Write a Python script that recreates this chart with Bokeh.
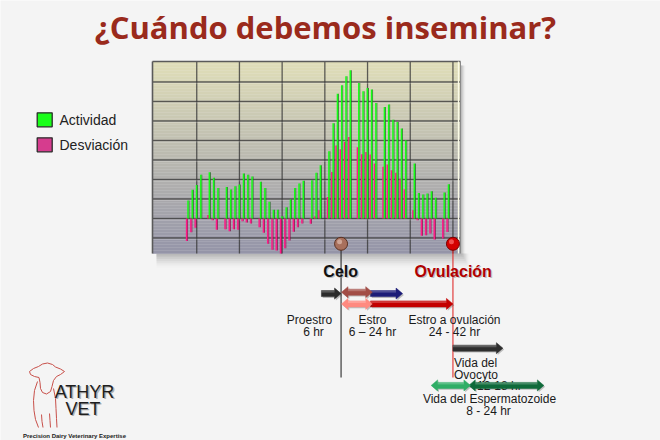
import math
from bokeh.plotting import figure
from bokeh.models import Range1d
from bokeh.core.properties import value
from bokeh.embed import file_html
from bokeh.resources import INLINE

W, H = 660, 440

# ---------------- data ----------------
titulo = "¿Cuándo debemos inseminar?"
serie_nombres = ["Actividad", "Desviación"]
slots = [0, 1, 2, 3, 5, 6, 7, 9, 10, 11, 12, 13, 14, 15, 17, 18, 19, 20, 21, 22, 23,
         24, 25, 26, 27, 29, 30, 31, 33, 34, 35, 36, 37, 38, 40, 41, 42, 43, 44, 46,
         47, 48, 49, 50, 51, 53, 54, 55, 56, 57, 58, 60, 61]
actividad = [0.92, 1.47, 1.72, 2.24, 2.37, 2.09, 1.57, 1.62, 1.49, 1.65, 1.74, 2.31,
             2.24, 2.15, 1.88, 1.57, 0.86, 0.45, 0.45, 0.12, 0.58, 0.97, 1.57, 1.79,
             1.93, 1.96, 2.35, 2.73, 3.45, 4.89, 6.40, 6.83, 7.29, 7.60, 6.95, 6.52,
             6.69, 6.61, 5.92, 5.72, 5.84, 5.07, 4.95, 4.61, 4.01, 2.82, 1.31, 1.23,
             1.28, 1.40, 1.06, 1.33, 1.76]
desviacion = [-1.16, -0.70, -0.48, float("nan"), 0.18, -0.09, -0.58, -0.55, -0.65,
              -0.55, -0.58, -0.14, -0.21, -0.25, -0.45, -0.73, -1.30, -1.60, -1.64,
              -1.80, -1.52, -1.13, -0.68, -0.45, -0.26, -0.27, 0.10, 0.42, 1.10, 2.39,
              3.75, 3.55, 3.93, 4.18, 3.65, 3.29, 3.41, 3.28, 2.82, 2.65, 2.77, 2.48,
              2.35, 2.04, 1.50, 0.42, -0.09, -0.89, -0.86, -0.77, -1.08, -1.03, -0.69]
grid_x = [2, 12, 22, 32, 42, 52, 62]
grid_y = [-1, 0, 1, 2, 3, 4, 5, 6, 7]
eventos = ["Celo", "Ovulación"]
eventos_x = [35.8, 62.0]
eventos_color = ["#111111", "#b00000"]
# phase arrows (start, end in chart slot units, row level)
fase_ini = [31.2, 42.7, 35.9, 42.7, 35.9, 62.0, 65.7, 56.9]
fase_fin = [35.8, 50.2, 43.1, 62.0, 43.1, 73.7, 83.3, 66.1]
fase_fila = [-3.85, -3.85, -3.78, -4.38, -4.38, -6.65, -8.56, -8.56]
fase_doble = [False, False, True, False, True, False, True, True]
fase_color = ["#2b2b2b", "#1c1c78", "#a24d46", "#c40000", "#ff8a80", "#2e2e2e",
              "#0f6a3a", "#2fae66"]

# ---------------- scale helpers ----------------
X0, SX, Y0, SY = 187.7, 4.27, 218.0, 19.5


def X(px):
    return (px - X0) / SX


def Y(py):
    return (Y0 - py) / SY


def PX(x):
    return X0 + x * SX


def PY(y):
    return Y0 - y * SY


FONT = value("Liberation Sans")

p = figure(width=W, height=H, x_range=Range1d(X(0), X(W)), y_range=Range1d(Y(H), Y(0)),
           output_backend="svg", toolbar_location=None, min_border=0,
           x_axis_location=None, y_axis_location=None,
           background_fill_color="#f4f4f4", border_fill_color="#f4f4f4")
p.outline_line_color = None
p.grid.visible = False

# ---------------- chart frame ----------------
L, R, T, B = 152, 460, 61, 253
# drop shadows
for i in range(8):
    a = 0.10 * (1 - i / 8)
    p.quad(left=X(L + 4), right=X(R + 2 + i), top=Y(B), bottom=Y(B + 2 + i * 1.8),
           fill_color="#606060", fill_alpha=a, line_color=None)
    p.quad(left=X(R), right=X(R + 1 + i * 0.6), top=Y(T + 4), bottom=Y(B),
           fill_color="#606060", fill_alpha=a, line_color=None)
# gradient background
n = 64
top_c = (224, 222, 184)
bot_c = (148, 148, 168)
for i in range(n):
    t = (i + 0.5) / n
    c = tuple(int(round(top_c[k] + (bot_c[k] - top_c[k]) * t)) for k in range(3))
    y1 = T + (B - T) * i / n
    y2 = T + (B - T) * (i + 1) / n
    p.quad(left=X(L), right=X(R), top=Y(y1), bottom=Y(y2) - 0.01,
           fill_color="#%02x%02x%02x" % c, line_color=None)

# grid
p.segment(x0=grid_x, x1=grid_x, y0=[Y(B)] * len(grid_x), y1=[Y(T)] * len(grid_x),
          line_color="#3a3a3a", line_alpha=0.8, line_width=1.3)
p.segment(x0=[X(L)] * len(grid_y), x1=[X(R)] * len(grid_y), y0=grid_y, y1=grid_y,
          line_color="#3a3a3a", line_alpha=0.8, line_width=1.3)
p.segment(x0=[X(L)] * len(grid_y), x1=[X(R)] * len(grid_y),
          y0=[g - 1.3 / SY for g in grid_y], y1=[g - 1.3 / SY for g in grid_y],
          line_color="#ffffff", line_alpha=0.25, line_width=1)
# borders
p.line(x=[X(L), X(L)], y=[Y(B), Y(T)], line_color="#5a5a5a", line_width=1.6)
p.line(x=[X(L), X(R)], y=[Y(T), Y(T)], line_color="#5a5a5a", line_width=1.6)
p.line(x=[X(R - 2), X(R - 2)], y=[Y(B), Y(T)], line_color="#fbfbe6", line_width=1.4)
p.line(x=[X(R), X(R)], y=[Y(B), Y(T)], line_color="#8a8a8a", line_width=1)

# bars: deviation (magenta) behind activity (green)
dx = [s - 0.33 for s in slots]
p.vbar(x=[d + 0.2 for d in dx], top=desviacion, bottom=0, width=0.18,
       fill_color="#8c0b48", line_color=None)
p.vbar(x=[d - 0.05 for d in dx], top=desviacion, bottom=0, width=0.34,
       fill_color="#ff1a88", line_color=None)
p.vbar(x=[s + 0.2 for s in slots], top=actividad, bottom=0, width=0.18,
       fill_color="#246a24", line_color=None)
p.vbar(x=[s - 0.05 for s in slots], top=actividad, bottom=0, width=0.34,
       fill_color="#14ff14", line_color=None)

# ---------------- event lines & markers ----------------
ev_y = Y(243.3)
p.segment(x0=eventos_x, x1=eventos_x, y0=[Y(249)] * 2, y1=[Y(377)] * 2,
          line_color=["#2a2a2a", "#e03030"], line_width=1.1)
p.scatter(x=eventos_x, y=[ev_y] * 2, size=13, marker="circle",
          fill_color=["#a8705c", "#d40000"], line_color=["#5a3020", "#7a0000"],
          line_width=1)
p.scatter(x=[e - 0.35 for e in eventos_x], y=[ev_y + 0.1] * 2, size=5, marker="circle",
          fill_color=["#e0bcae", "#ff7070"], fill_alpha=0.7, line_color=None)
# event labels with shadow
lab_x = [X(340.2), X(452.7)]
p.text(x=[v + 1.2 / SX for v in lab_x], y=[Y(271) - 1.2 / SY] * 2, text=eventos,
       text_font=FONT, text_font_style="bold", text_font_size="16px",
       text_align="center", text_baseline="middle", text_color="#9a9a9a",
       text_alpha=0.6)
p.text(x=lab_x, y=[Y(271)] * 2, text=eventos, text_font=FONT, text_font_style="bold",
       text_font_size="16px", text_align="center", text_baseline="middle",
       text_color=eventos_color)

# ---------------- phase texts ----------------
tx = dict(text_font=FONT, text_font_size="12px", text_baseline="middle",
          text_color="#1a1a1a")
p.text(x=[X(309), X(313), X(372), X(372), X(454), X(454)],
       y=[Y(319), Y(331), Y(319), Y(331), Y(319), Y(331)],
       text=["Proestro", "6 hr", "Estro", "6 – 24 hr", "Estro a ovulación", "24 - 42 hr"],
       text_align="center", **tx)
p.text(x=[X(453.5), X(453.5), X(476.5)], y=[Y(362.5), Y(374), Y(385.5)],
       text=["Vida del", "Ovocyto", "12-18 hr"], text_align="left", **tx)
p.text(x=[X(489), X(488)], y=[Y(398.5), Y(410)],
       text=["Vida del Espermatozoide", "8 - 24 hr"], text_align="center", **tx)


# ---------------- phase arrows ----------------
def arrow_xy(x0, x1, yc, double, shaft=6.0, head=11.0, hl=6.5, off=0.0):
    a, b, y = PX(x0) + off, PX(x1) + off, PY(yc) + off
    hs, hh = shaft / 2, head / 2
    if double:
        pts = [(a, y), (a + hl, y - hh), (a + hl, y - hs), (b - hl, y - hs),
               (b - hl, y - hh), (b, y), (b - hl, y + hh), (b - hl, y + hs),
               (a + hl, y + hs), (a + hl, y + hh)]
    else:
        pts = [(a, y - hs), (b - hl, y - hs), (b - hl, y - hh), (b, y),
               (b - hl, y + hh), (b - hl, y + hs), (a, y + hs)]
    return [X(q[0]) for q in pts], [Y(q[1]) for q in pts]


for i in range(len(fase_ini)):
    sx, sy = arrow_xy(fase_ini[i], fase_fin[i], fase_fila[i], fase_doble[i], off=1.3)
    p.patch(x=sx, y=sy, fill_color="#404040", fill_alpha=0.3, line_color=None)
    ax, ay = arrow_xy(fase_ini[i], fase_fin[i], fase_fila[i], fase_doble[i])
    p.patch(x=ax, y=ay, fill_color=fase_color[i], line_color=fase_color[i],
            line_width=0.6, line_alpha=0.9)
    a = PX(fase_ini[i]) + (6.5 if fase_doble[i] else 0)
    b = PX(fase_fin[i]) - 6.5
    y = PY(fase_fila[i])
    p.quad(left=X(a), right=X(b), top=Y(y - 3), bottom=Y(y - 1),
           fill_color="#ffffff", fill_alpha=0.22, line_color=None)

# ---------------- title ----------------
p.text(x=[X(325)], y=[Y(26)], text=[titulo], text_font=value("Open Sans"),
       text_font_style="bold", text_font_size="31px", text_align="center",
       text_baseline="alphabetic", text_color="#9a2a1c")

# ---------------- legend ----------------
p.quad(left=[X(36.7)] * 2, right=[X(51.7)] * 2, top=[Y(112.3), Y(137.3)],
       bottom=[Y(126.3), Y(151.3)], fill_color=["#1aff1a", "#d63c8e"],
       line_color="#2a2a2a", line_width=1.3)
p.text(x=[X(59)] * 2, y=[Y(119.5), Y(144.5)], text=serie_nombres, text_font=FONT,
       text_font_size="14px", text_align="left", text_baseline="middle",
       text_color="#222222")

# ---------------- logo ----------------
cow = [
    [(29, 371), (33, 368), (38, 366), (42, 363.5), (47, 362.5), (52, 364), (55, 366.5),
     (60, 368.5), (64, 371), (60, 374), (56, 376), (53, 380), (51.5, 386), (50, 391),
     (46, 393.5), (42, 392), (40, 388), (39.5, 382), (38.5, 377), (34, 376), (30, 374),
     (29, 371)],
    [(37, 381), (34, 390), (33, 400), (33.5, 410), (35, 419), (38, 427)],
    [(41, 414), (41.5, 421), (42.5, 427)],
    [(49, 413), (49.5, 420), (50, 427)],
    [(53, 388), (55, 398), (55.5, 408), (56, 418), (56.5, 427)],
]
p.multi_line(xs=[[X(a) for a, _ in c] for c in cow], ys=[[Y(b) for _, b in c] for c in cow],
             line_color="#c8504a", line_width=1)
for dxs, col in [(1.3, "#b0b0b0"), (0, "#1e1e1e")]:
    p.text(x=[X(84 + dxs), X(82.5 + dxs)], y=[Y(391.5 + dxs), Y(408.5 + dxs)],
           text=["ATHYR", "VET"], text_font=FONT, text_font_size="18px",
           text_align="center", text_baseline="middle", text_color=col)
p.text(x=[X(74)], y=[Y(435)], text=["Precision Dairy Veterinary Expertise"],
       text_font=FONT, text_font_style="bold", text_font_size="6px",
       text_align="center", text_baseline="middle", text_color="#1a1a1a")

open("out.html", "w").write(file_html(p, INLINE))
